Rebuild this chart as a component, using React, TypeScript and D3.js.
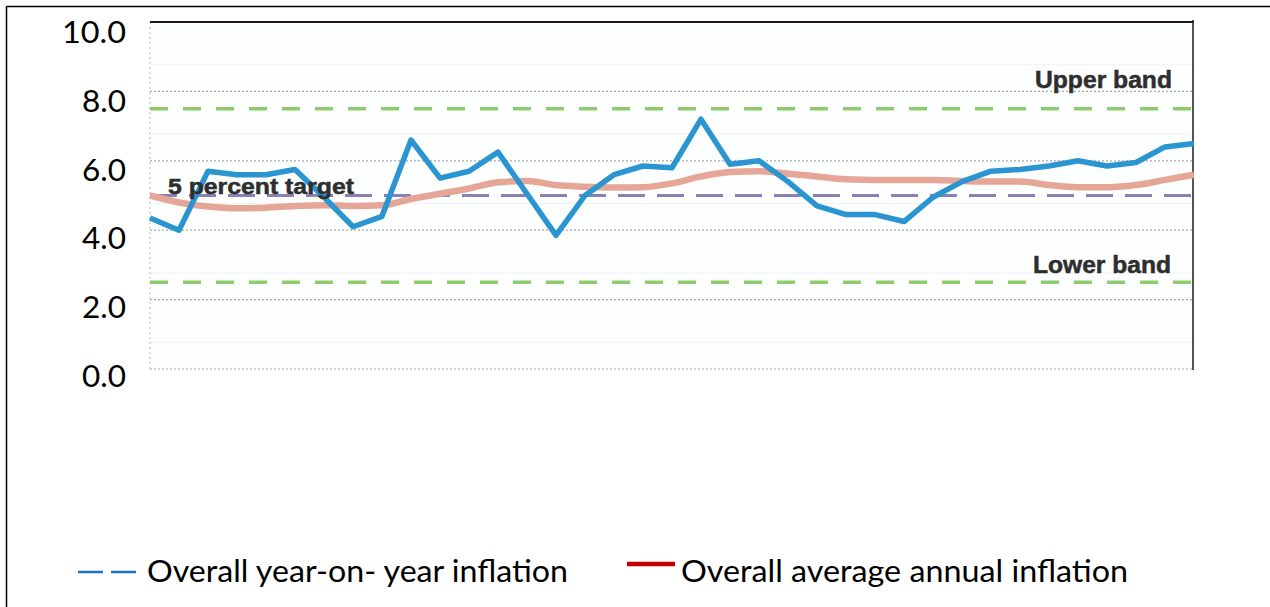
import React from "react";
import * as d3 from "d3";

// ---- data ----
const months: number[] = d3.range(37); // 37 monthly observations
const yoyInflation: number[] = [
  4.35, 4.0, 5.7, 5.6, 5.6, 5.75, 4.95, 4.1, 4.4, 6.6,
  5.5, 5.7, 6.25, 5.05, 3.85, 5.0, 5.6, 5.85, 5.8, 7.2,
  5.9, 6.0, 5.4, 4.7, 4.45, 4.45, 4.25, 4.95, 5.4, 5.7,
  5.75, 5.85, 6.0, 5.85, 5.95, 6.4, 6.5,
];
const avgAnnualInflation: number[] = [
  5.0, 4.8, 4.68, 4.63, 4.65, 4.7, 4.72, 4.7, 4.72, 4.9,
  5.05, 5.2, 5.38, 5.42, 5.3, 5.25, 5.23, 5.24, 5.35, 5.55,
  5.68, 5.7, 5.63, 5.55, 5.47, 5.45, 5.45, 5.45, 5.42, 5.4,
  5.4, 5.3, 5.24, 5.24, 5.3, 5.45, 5.6,
];
const upperBand = 7.5;
const lowerBand = 2.5;
const target = 5.0;
const yTicks: number[] = [0, 2, 4, 6, 8, 10];
const gridValues: number[] = [2, 4, 6, 8];
const faintGridValues: number[] = [1, 3, 5, 7, 9];
const legendLabels: string[] = ["Overall year-on- year inflation", "Overall average annual inflation"];
const bandLabels: string[] = ["Upper band", "Lower band", "5 percent target"];

export default function App() {
  const x = d3.scaleLinear().domain([0, months.length - 1]).range([150, 1194]);
  const y = d3.scaleLinear().domain([0, 10]).range([369, 22]);
  // outer axis labels (sit slightly lower than the inner scanned grid)
  const yLab = d3.scaleLinear().domain([0, 10]).range([387, 43]);

  const yoyLine = d3
    .line<number>()
    .x((_, i) => x(months[i]))
    .y((d) => y(d));
  const avgLine = d3
    .line<number>()
    .x((_, i) => x(months[i]))
    .y((d) => y(d))
    .curve(d3.curveMonotoneX);

  const [x0, x1] = x.range();
  const labelFont = "Lato, 'Open Sans', sans-serif";
  const scanFont = "'Liberation Sans', Arial, sans-serif";

  return (
    <svg
      width={1270}
      height={607}
      style={{ position: "absolute", left: 0, top: 0, display: "block", background: "#fff" }}
      fontFamily={labelFont}
    >
      {/* outer frame (extends beyond the window on right/bottom) */}
      <line x1={6.5} y1={6.5} x2={1270} y2={6.5} stroke="#000" strokeWidth={1.5} />
      <line x1={6.5} y1={6.5} x2={6.5} y2={607} stroke="#000" strokeWidth={1.5} />

      {/* y axis labels */}
      {yTicks.map((t) => {
        const s = d3.format(".1f")(t);
        return (
          <text
            key={t}
            x={126}
            y={yLab(t)}
            textAnchor="end"
            fontSize={31}
            fill="#000"
            textLength={s.length === 4 ? 64 : 44}
            lengthAdjust="spacingAndGlyphs"
          >
            {s}
          </text>
        );
      })}

      {/* plot background */}
      <rect x={x0} y={y(10)} width={x1 - x0} height={y(0) - y(10)} fill="#fdfefe" />

      {/* faint grid */}
      {faintGridValues.map((v) => (
        <line key={"f" + v} x1={x0} x2={x1} y1={y(v) + 8} y2={y(v) + 8} stroke="#f0f2f5" strokeWidth={1} />
      ))}
      {/* dotted grid */}
      {gridValues.map((v) => (
        <line
          key={"g" + v}
          x1={x0}
          x2={x1}
          y1={y(v)}
          y2={y(v)}
          stroke="#8a8d92"
          strokeWidth={1.2}
          strokeDasharray="2 2"
          opacity={0.75}
        />
      ))}
      <line x1={x0} x2={x1} y1={y(0)} y2={y(0)} stroke="#8a8d92" strokeWidth={1.2} strokeDasharray="2 2" opacity={0.8} />
      <line x1={x0} x2={x0} y1={y(10)} y2={y(0)} stroke="#b5b9be" strokeWidth={1} strokeDasharray="2 3" />

      {/* frame of inner chart */}
      <line x1={x0} x2={x1} y1={y(10)} y2={y(10)} stroke="#1a1a1a" strokeWidth={2} />
      <line x1={x1 - 1} x2={x1 - 1} y1={y(10) - 2} y2={y(0) + 1} stroke="#2a2a2a" strokeWidth={1.6} />

      {/* bands */}
      <line x1={x0} x2={x1 - 2} y1={y(upperBand)} y2={y(upperBand)} stroke="#8dcc6a" strokeWidth={3.5} strokeDasharray="18 15" />
      <line x1={x0} x2={x1 - 2} y1={y(lowerBand)} y2={y(lowerBand)} stroke="#8dcc6a" strokeWidth={3.5} strokeDasharray="18 15" />
      <line x1={x0} x2={x1 - 2} y1={y(target)} y2={y(target)} stroke="#8b80b6" strokeWidth={3} strokeDasharray="27 12" />

      {/* series */}
      <path d={avgLine(avgAnnualInflation) || ""} fill="none" stroke="#e6a697" strokeWidth={6.5} strokeLinejoin="round" />
      <path d={yoyLine(yoyInflation) || ""} fill="none" stroke="#2a95d1" strokeWidth={5.5} strokeLinejoin="round" />

      {/* band labels */}
      <g fontFamily={scanFont} fontWeight="bold" fill="#2e2e2e" stroke="#2e2e2e" strokeWidth={0.5}>
        <text x={1035} y={88} fontSize={23} textLength={137} lengthAdjust="spacingAndGlyphs">
          {bandLabels[0]}
        </text>
        <text x={1033} y={273} fontSize={23} textLength={138} lengthAdjust="spacingAndGlyphs">
          {bandLabels[1]}
        </text>
        <text x={168} y={194} fontSize={22} textLength={186} lengthAdjust="spacingAndGlyphs">
          {bandLabels[2]}
        </text>
      </g>

      {/* legend */}
      <line x1={78} x2={136} y1={572} y2={572} stroke="#1a73c4" strokeWidth={2.5} strokeDasharray="25 8" />
      <text x={147} y={582} fontSize={30} fill="#000" textLength={421} lengthAdjust="spacingAndGlyphs">
        {legendLabels[0]}
      </text>
      <line x1={627} x2={675} y1={564} y2={564} stroke="#c00000" strokeWidth={4.5} />
      <text x={681} y={582} fontSize={30} fill="#000" textLength={447} lengthAdjust="spacingAndGlyphs">
        {legendLabels[1]}
      </text>
    </svg>
  );
}
